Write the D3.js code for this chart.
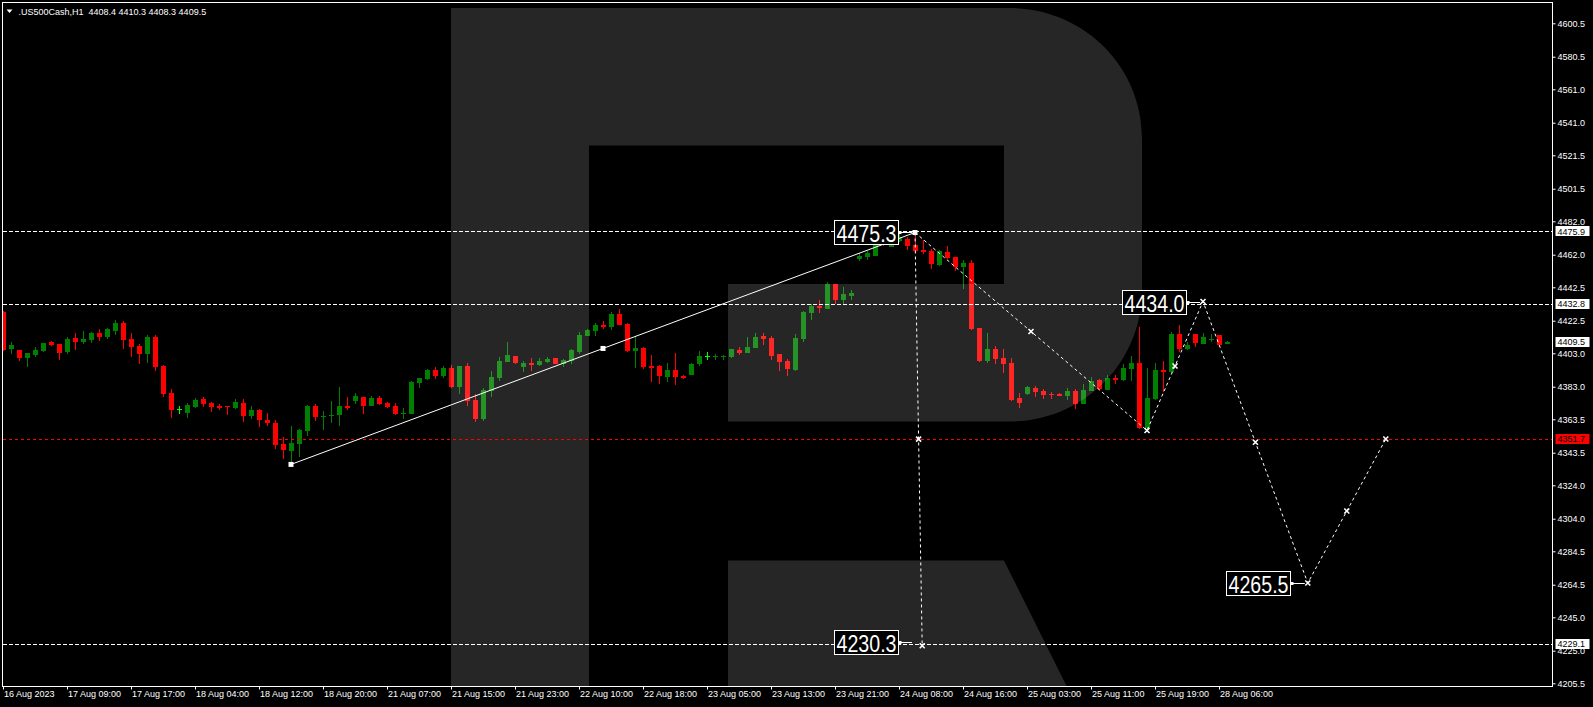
<!DOCTYPE html>
<html><head><meta charset="utf-8">
<script src="https://cdn.jsdelivr.net/npm/d3@7"></script>
<style>
html,body{margin:0;padding:0;background:#000;overflow:hidden}
svg{display:block}
text{font-family:"Liberation Sans",Arial,sans-serif}
</style></head><body>
<svg id="c" width="1593" height="707"></svg>
<script>
// ---------------- data ----------------
const symbol = ".US500Cash,H1";
const opens = [4427.7,4405.5,4404.9,4400.1,4401.9,4404.3,4409.7,4408.5,4403.7,4412.1,
4409.7,4410.9,4415.1,4412.7,4416.3,4421.1,4411.5,4407.3,4402.5,4412.7,
4395.3,4379.2,4369.6,4367.2,4370.8,4375.6,4373.2,4371.4,4371.2,4370.2,
4373.2,4365.4,4369.0,4363.0,4361.2,4348.7,4344.5,4348.7,4356.4,4371.4,
4365.2,4365.8,4366.0,4371.4,4374.4,4376.8,4371.4,4376.2,4373.2,4371.4,
4367.0,4366.6,4385.2,4387.6,4392.9,4389.4,4394.1,4382.8,4395.3,4375.0,
4363.6,4380.4,4388.2,4397.7,4401.3,4394.7,4397.1,4395.9,4397.7,4400.1,
4396.5,4398.3,4403.7,4413.3,4416.3,4419.9,4418.7,4426.5,4420.5,4404.3,
4406.1,4395.3,4395.3,4388.8,4392.9,4389.4,4390.0,4396.5,4401.3,4401.1,
4401.1,4400.7,4404.9,4403.1,4406.1,4413.3,4412.1,4402.5,4398.3,4392.9,
4411.5,4427.1,4431.3,4429.5,4444.5,4434.9,4437.3,4459.4,4460.8,4461.5,
4469.6,4466.9,4470.2,4471.7,4467.8,4464.8,4464.2,4455.8,4463.6,4460.6,
4454.7,4457.0,4418.1,4398.3,4405.5,4400.1,4397.1,4376.2,4378.6,4382.2,
4380.4,4378.8,4378.6,4377.4,4380.4,4372.6,4380.4,4387.0,4381.0,4388.2,
4387.0,4393.5,4397.1,4358.2,4375.6,4392.9,4391.7,4414.5,4405.5,4414.5,
4408.5,4411.3,4413.9,4408.4];
const highs = [4428.5,4409.7,4405.2,4403.4,4406.7,4409.4,4410.3,4408.8,4412.7,4415.1,
4416.3,4415.7,4417.5,4418.1,4422.9,4422.3,4415.1,4408.5,4413.9,4413.9,
4395.9,4381.6,4371.4,4373.2,4376.2,4376.8,4373.8,4372.6,4371.4,4375.6,
4375.6,4371.4,4369.6,4367.2,4363.0,4352.9,4359.4,4357.6,4372.0,4372.6,
4368.4,4374.4,4382.8,4376.8,4379.2,4377.0,4377.4,4377.4,4373.8,4373.2,
4370.2,4386.4,4388.4,4393.5,4394.7,4395.3,4395.9,4395.5,4397.1,4378.6,
4382.2,4392.3,4400.7,4409.7,4401.5,4398.3,4400.1,4400.1,4400.7,4400.3,
4399.5,4405.5,4415.7,4417.5,4421.1,4422.3,4427.7,4429.5,4421.1,4413.3,
4406.7,4401.9,4395.9,4397.1,4403.1,4390.0,4397.1,4404.3,4403.7,4402.5,
4401.9,4405.7,4406.7,4412.7,4415.1,4415.1,4413.3,4402.7,4399.5,4414.5,
4428.3,4432.5,4434.9,4445.7,4444.7,4442.7,4440.9,4463.0,4464.2,4470.5,
4470.8,4472.8,4474.4,4472.8,4475.3,4470.8,4465.4,4464.8,4467.2,4460.8,
4458.8,4458.8,4418.3,4415.1,4407.3,4405.5,4400.1,4379.2,4383.4,4383.4,
4381.6,4379.8,4379.2,4382.2,4381.6,4384.6,4388.8,4387.6,4390.0,4390.0,
4396.5,4401.3,4418.7,4394.1,4397.1,4398.3,4415.7,4419.9,4409.7,4414.7,
4415.1,4414.5,4414.1,4410.3];
const lows = [4404.3,4402.5,4398.5,4394.9,4400.7,4403.7,4407.3,4398.9,4402.5,4404.9,
4408.5,4409.1,4410.3,4411.5,4413.9,4405.5,4400.7,4396.5,4397.1,4392.3,
4376.8,4364.2,4366.6,4364.2,4370.2,4370.8,4367.8,4369.0,4366.0,4369.6,
4361.8,4363.6,4358.8,4359.4,4345.7,4339.7,4336.5,4341.1,4353.5,4362.4,
4357.0,4361.2,4359.4,4369.0,4372.6,4366.6,4371.2,4372.0,4370.2,4366.0,
4363.6,4366.4,4382.2,4387.0,4387.6,4388.2,4382.2,4378.6,4371.4,4361.7,
4362.4,4376.8,4386.4,4397.5,4396.5,4391.7,4392.3,4395.3,4397.1,4396.3,
4394.7,4396.5,4402.5,4413.1,4413.3,4417.5,4416.9,4419.7,4403.7,4394.1,
4393.5,4385.8,4384.6,4385.8,4384.0,4387.6,4389.8,4395.3,4398.9,4398.9,
4398.9,4400.1,4401.9,4402.9,4405.9,4407.9,4398.9,4392.3,4389.4,4392.3,
4409.7,4422.9,4427.1,4429.3,4432.5,4432.5,4434.9,4458.2,4458.8,4461.2,
4467.2,4466.6,4469.6,4464.8,4463.0,4462.4,4453.5,4455.2,4459.4,4452.3,
4441.5,4416.9,4397.7,4397.1,4396.5,4391.1,4374.4,4370.2,4378.0,4376.8,
4375.6,4375.6,4377.2,4375.0,4369.6,4372.4,4380.2,4381.0,4380.8,4384.6,
4386.4,4386.4,4357.4,4356.8,4375.0,4379.8,4391.5,4403.7,4404.9,4406.7,
4408.3,4409.7,4407.7,4408.3];
const closes = [4404.9,4407.9,4400.1,4403.1,4404.9,4409.1,4407.9,4403.1,4411.5,4409.7,
4411.5,4415.1,4412.7,4417.5,4421.1,4410.9,4406.7,4402.5,4412.7,4394.7,
4378.6,4369.0,4369.6,4372.0,4375.0,4372.6,4370.8,4370.2,4370.8,4373.8,
4365.4,4369.0,4363.0,4361.2,4348.1,4345.1,4349.3,4357.0,4371.4,4364.8,
4365.6,4366.2,4371.4,4370.2,4377.4,4371.4,4376.2,4372.6,4370.8,4366.6,
4367.4,4385.8,4388.2,4392.9,4389.4,4394.1,4382.8,4395.3,4374.4,4363.6,
4381.0,4388.8,4398.3,4401.9,4397.1,4397.1,4395.9,4398.3,4399.5,4396.5,
4398.9,4404.9,4413.9,4416.9,4419.9,4418.7,4426.5,4419.9,4404.3,4406.1,
4394.7,4394.1,4389.4,4392.9,4388.8,4388.2,4396.5,4401.3,4401.3,4401.5,
4401.5,4405.5,4403.1,4406.7,4412.7,4411.5,4401.3,4397.7,4393.5,4412.1,
4427.7,4431.3,4430.1,4444.5,4434.9,4438.5,4439.1,4461.2,4462.8,4469.3,
4467.8,4471.1,4472.6,4467.2,4464.4,4463.6,4456.4,4464.2,4460.0,4454.7,
4457.0,4417.5,4398.3,4405.5,4399.5,4396.5,4375.0,4373.2,4382.8,4379.8,
4378.0,4378.4,4377.4,4380.4,4372.6,4381.0,4386.4,4381.6,4388.2,4387.0,
4394.1,4397.1,4358.2,4376.2,4392.9,4391.7,4414.5,4405.5,4407.9,4409.1,
4412.7,4411.6,4407.9,4409.5];

const timeLabels = ["16 Aug 2023","17 Aug 09:00","17 Aug 17:00","18 Aug 04:00","18 Aug 12:00",
"18 Aug 20:00","21 Aug 07:00","21 Aug 15:00","21 Aug 23:00","22 Aug 10:00","22 Aug 18:00",
"23 Aug 05:00","23 Aug 13:00","23 Aug 21:00","24 Aug 08:00","24 Aug 16:00","25 Aug 03:00",
"25 Aug 11:00","25 Aug 19:00","28 Aug 06:00"];
const priceTicks = [4600.5,4580.5,4561.0,4541.0,4521.5,4501.5,4482.0,4462.0,4442.5,4422.5,
4403.0,4383.0,4363.5,4343.5,4324.0,4304.0,4284.5,4264.5,4245.0,4225.0,4205.5];

const levelPrices = [4475.9, 4432.8, 4351.7, 4229.1];
const levelColors = ["#ffffff","#ffffff","#ff0000","#ffffff"];
const bidPrice = 4409.5;

const waveIdx = [36, 114];
const wavePrice = [4336.5, 4475.3];
const dropIdx = [114, 114.9];
const dropPrice = [4475.3, 4228.0];
const fcIdx = [114, 143, 150, 163.1, 172.85];
const fcPrice = [4475.3, 4356.8, 4434.0, 4265.5, 4351.7];
const noteText = ["4475.3","4434.0","4265.5","4230.3"];
const noteIdx = [114, 150, 163.1, 114];
const notePrice = [4475.3, 4434.0, 4265.5, 4230.3];

// ---------------- drawing ----------------
const svg = d3.select("#c");
const W = 1593, H = 707;
const L = 2.5, T = 2.5, R = 1552.5, B = 686.5;

const x = d3.scaleLinear().domain([0, 152]).range([3, 1219]);
const y = d3.scaleLinear().domain([4205.5, 4600.5]).range([683.3, 23.3]);

svg.append("rect").attr("width", W).attr("height", H).attr("fill", "#000");

const defs = svg.append("defs");
defs.append("clipPath").attr("id", "plot")
  .append("rect").attr("x", 3).attr("y", 3).attr("width", R - 3.5).attr("height", B - 3.5);

const plot = svg.append("g").attr("clip-path", "url(#plot)");

// candles
const bars = d3.range(opens.length).map(i => ({i, o: opens[i], h: highs[i], l: lows[i], c: closes[i]}));
const colorOf = d => d.c > d.o ? "#008000" : (d.c < d.o ? "#ff0000" : "#00ff00");
const cg = plot.append("g").attr("shape-rendering", "crispEdges");
const cs = cg.selectAll("g").data(bars).join("g");
cs.append("rect")
  .attr("x", d => Math.round(x(d.i)))
  .attr("y", d => Math.round(y(d.h)))
  .attr("width", 1)
  .attr("height", d => Math.max(1, Math.round(y(d.l)) - Math.round(y(d.h))))
  .attr("fill", colorOf);
cs.append("rect")
  .attr("x", d => Math.round(x(d.i)) - 2)
  .attr("y", d => Math.round(y(Math.max(d.o, d.c))))
  .attr("width", 5)
  .attr("height", d => Math.max(1, Math.round(y(Math.min(d.o, d.c))) - Math.round(y(Math.max(d.o, d.c)))))
  .attr("fill", colorOf);

// watermark logo (semi-transparent overlay)
const logo = d3.path();
logo.moveTo(451, 8); logo.lineTo(1010, 8);
logo.bezierCurveTo(1083, 8, 1142, 66, 1142, 138);
logo.lineTo(1142, 290);
logo.bezierCurveTo(1142, 363, 1083, 421.5, 1010, 421.5);
logo.lineTo(728, 421.5); logo.lineTo(728, 284); logo.lineTo(1004, 284);
logo.lineTo(1004, 145.5); logo.lineTo(589, 145.5); logo.lineTo(589, 707); logo.lineTo(451, 707);
logo.closePath();
logo.moveTo(728, 560.5); logo.lineTo(1004, 560.5); logo.lineTo(1077, 707); logo.lineTo(728, 707);
logo.closePath();
plot.append("path").attr("d", logo.toString()).attr("fill", "#ffffff").attr("fill-opacity", 0.15);

// horizontal levels
plot.selectAll("line.lvl").data(levelPrices).join("line").attr("class", "lvl")
  .attr("x1", 3).attr("x2", R)
  .attr("y1", d => Math.round(y(d)) + 0.5).attr("y2", d => Math.round(y(d)) + 0.5)
  .attr("stroke", (d, i) => levelColors[i]).attr("stroke-width", 1)
  .attr("stroke-dasharray", (d, i) => levelColors[i] === "#ff0000" ? "3,3" : "4,2");

// solid wave with mid marker
const wavePts = waveIdx.map((d, k) => [x(d), y(wavePrice[k])]);
plot.append("line")
  .attr("x1", wavePts[0][0]).attr("y1", wavePts[0][1])
  .attr("x2", wavePts[1][0]).attr("y2", wavePts[1][1])
  .attr("stroke", "#fff").attr("stroke-width", 1);
const waveMarks = [wavePts[0], [(wavePts[0][0] + wavePts[1][0]) / 2, (wavePts[0][1] + wavePts[1][1]) / 2], wavePts[1]];
plot.selectAll("rect.wm").data(waveMarks).join("rect").attr("class", "wm")
  .attr("x", d => d[0] - 2.5).attr("y", d => d[1] - 2.5).attr("width", 5).attr("height", 5)
  .attr("fill", "#fff");

// dashed drop line and forecast zigzag
const lineGen = d3.line();
const dropPts = dropIdx.map((d, k) => [x(d), y(dropPrice[k])]);
const fcPts = fcIdx.map((d, k) => [x(d), y(fcPrice[k])]);
[dropPts, fcPts].forEach(pts => {
  plot.append("path").attr("d", lineGen(pts)).attr("fill", "none")
    .attr("stroke", "#fff").attr("stroke-width", 1).attr("stroke-dasharray", "3,3");
});
const xMarks = [];
[dropPts, fcPts].forEach(pts => {
  for (let k = 0; k < pts.length - 1; k++) {
    xMarks.push([(pts[k][0] + pts[k + 1][0]) / 2, (pts[k][1] + pts[k + 1][1]) / 2]);
    xMarks.push(pts[k + 1]);
  }
});
const mg = plot.append("g").attr("stroke", "#fff").attr("stroke-width", 1.6);
xMarks.forEach(p => {
  mg.append("path").attr("d", `M${p[0]-2.5},${p[1]-2.5}L${p[0]+2.5},${p[1]+2.5}M${p[0]+2.5},${p[1]-2.5}L${p[0]-2.5},${p[1]+2.5}`);
});

// annotation boxes
noteText.forEach((t, k) => {
  const px = x(noteIdx[k]), py = y(notePrice[k]);
  const bx = Math.round(px - 17.5 - 64) + 0.5, by = Math.round(py - 12) + 0.5;
  plot.append("line").attr("x1", bx + 64).attr("x2", px - 3)
    .attr("y1", Math.round(py) + 0.5).attr("y2", Math.round(py) + 0.5)
    .attr("stroke", "#fff").attr("stroke-width", 1);
  plot.append("rect").attr("x", bx + 64).attr("y", Math.round(py) - 1).attr("width", 3).attr("height", 3).attr("fill", "#fff");
  plot.append("rect").attr("x", bx).attr("y", by).attr("width", 64).attr("height", 24)
    .attr("fill", "#000").attr("stroke", "#fff").attr("stroke-width", 1);
  plot.append("text").attr("x", bx + 2).attr("y", by + 21)
    .attr("fill", "#fff").attr("font-size", 23)
    .attr("textLength", 60).attr("lengthAdjust", "spacingAndGlyphs")
    .text(t);
});

// frame
svg.append("rect").attr("x", L).attr("y", T).attr("width", R - L).attr("height", B - T)
  .attr("fill", "none").attr("stroke", "#fff").attr("stroke-width", 1).attr("shape-rendering", "crispEdges");

// price axis
const yAxis = d3.axisRight(y).tickValues(priceTicks).tickSize(3).tickPadding(2)
  .tickFormat(d => d.toFixed(1));
const ya = svg.append("g").attr("transform", `translate(${R},0)`).call(yAxis);
ya.select(".domain").remove();
ya.selectAll("line").attr("stroke", "#fff");
ya.selectAll("text").attr("fill", "#fff").attr("font-size", 9)
  .attr("font-family", "Liberation Sans, Arial, sans-serif");

// time axis
const xAxis = d3.axisBottom(x).tickValues(d3.range(0, 153, 8)).tickSize(3).tickPadding(1)
  .tickFormat((d, i) => timeLabels[i]);
const xa = svg.append("g").attr("transform", `translate(0,${B})`).call(xAxis);
xa.select(".domain").remove();
xa.selectAll("line").attr("stroke", "#fff");
xa.selectAll("text").attr("fill", "#fff").attr("font-size", 9).attr("text-anchor", "start")
  .attr("x", 0.5).attr("font-family", "Liberation Sans, Arial, sans-serif");

// price tags on axis
const tags = levelPrices.map((p, k) => ({p, bg: levelColors[k]})).concat([{p: bidPrice, bg: "#ffffff"}]);
const tg = svg.append("g");
tags.forEach(t => {
  const ty = y(t.p);
  tg.append("rect").attr("x", R + 3).attr("y", Math.round(ty) - 5).attr("width", 34).attr("height", 10)
    .attr("fill", t.bg);
  tg.append("text").attr("x", R + 5).attr("y", ty).attr("dy", "0.34em")
    .attr("fill", "#000").attr("font-size", 9).text(t.p.toFixed(1));
});

// title
svg.append("path").attr("d", "M6.5,9.5L12.5,9.5L9.5,13Z").attr("fill", "#fff");
const last = opens.length - 1;
svg.append("text").attr("x", 18.5).attr("y", 14.5).attr("fill", "#fff").attr("font-size", 9)
  .style("white-space", "pre")
  .text(`${symbol}  ${opens[last].toFixed(1)} ${highs[last].toFixed(1)} ${lows[last].toFixed(1)} ${closes[last].toFixed(1)}`);
</script>
</body></html>
